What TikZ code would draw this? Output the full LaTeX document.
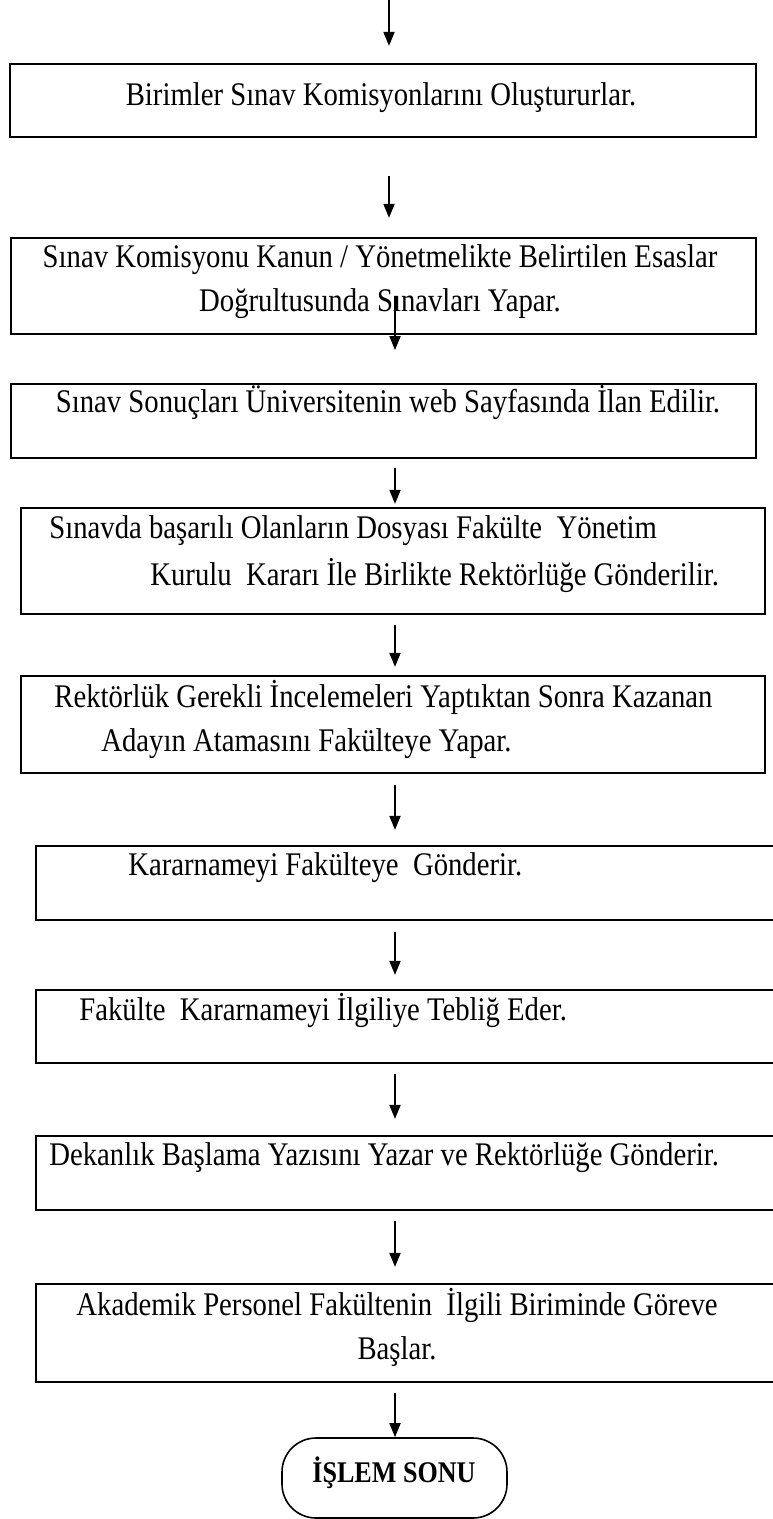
\documentclass[tikz,border=0pt]{standalone}
\usepackage{fontspec}
% narrow, tall serif as in the printed form
\setmainfont{Liberation Serif}[FakeStretch=0.87]
\usetikzlibrary{arrows.meta,calc,fit}
\begin{document}
% one unit = one pixel of the sheet, y grows downwards
\begin{tikzpicture}[x=0.5pt,y=-0.5pt,
  stepbox/.style={draw,line width=1.1pt,inner sep=0pt,rectangle},
  endbox/.style={draw,line width=0.8pt,inner sep=0pt,rounded corners=17pt},
  txt/.style={inner sep=0pt,font=\fontsize{16.5}{22}\selectfont},
  arr/.style={line width=0.9pt,-{Triangle[length=7pt,width=5.5pt]}}]
\useasboundingbox (0,0) rectangle (772,1519);

% arrow axes
\coordinate (ax) at (389,0);
\coordinate (bx) at (395,0);
\coordinate (top) at (389,0);

% process boxes
\node[stepbox,fit={(10,64) (756,137)}]   (b1) {};
\node[stepbox,fit={(11,238) (756,334)}]  (b2) {};
\node[stepbox,fit={(11,384) (756,458)}]  (b3) {};
\node[stepbox,fit={(21,508) (765,614)}]  (b4) {};
\node[stepbox,fit={(21,676) (765,773)}]  (b5) {};
\node[stepbox,fit={(36,846) (780,920)}]  (b6) {};
\node[stepbox,fit={(36,990) (780,1063)}] (b7) {};
\node[stepbox,fit={(36,1136) (780,1210)}] (b8) {};
\node[stepbox,fit={(36,1284) (780,1382)}] (b9) {};
\node[endbox,fit={(282,1438) (507,1518)}] (end) {};

% box texts
\node[txt,anchor=mid] (t1) at (381,101) {Birimler Sınav Komisyonlarını Oluştururlar.};
\node[txt,anchor=mid] (t2a) at (380,263) {Sınav Komisyonu Kanun / Yönetmelikte Belirtilen Esaslar};
\node[txt,anchor=mid] (t2b) at (380,307) {Doğrultusunda Sınavları Yapar.};
\node[txt,anchor=mid] (t3) at (388,408) {Sınav Sonuçları Üniversitenin web Sayfasında İlan Edilir.};
\node[txt,anchor=mid west] (t4a) at (49,534) {Sınavda başarılı Olanların Dosyası Fakülte\ \ Yönetim};
\node[txt,anchor=mid west] (t4b) at (150,581) {Kurulu\ \ Kararı İle Birlikte Rektörlüğe Gönderilir.};
\node[txt,anchor=mid west] (t5a) at (54,703) {Rektörlük Gerekli İncelemeleri Yaptıktan Sonra Kazanan};
\node[txt,anchor=mid west] (t5b) at (101,747) {Adayın Atamasını Fakülteye Yapar.};
\node[txt,anchor=mid west] (t6) at (128,871) {Kararnameyi Fakülteye\ \ Gönderir.};
\node[txt,anchor=mid west] (t7) at (79,1016) {Fakülte\ \ Kararnameyi İlgiliye Tebliğ Eder.};
\node[txt,anchor=mid west] (t8) at (49,1161) {Dekanlık Başlama Yazısını Yazar ve Rektörlüğe Gönderir.};
\node[txt,anchor=mid] (t9a) at (397,1311) {Akademik Personel Fakültenin\ \ İlgili Biriminde Göreve};
\node[txt,anchor=mid] (t9b) at (397,1355) {Başlar.};
\node[inner sep=0pt,font=\fontsize{15}{18}\selectfont\bfseries,anchor=mid] (t10) at (394,1478) {İŞLEM SONU};

% connectors
\draw[arr] (top) -- ($(b1.north -| ax)+(0,-17)$);
\draw[arr] ($(b1.south -| ax)+(0,38)$) -- ($(b2.north -| ax)+(0,-19)$);
\draw[arr] ($(b2.south -| bx)+(0,-39)$) -- ($(b2.south -| bx)+(0,15)$);
\draw[arr] ($(b3.south -| bx)+(0,9)$) -- ($(b4.north -| bx)+(0,-3)$);
\draw[arr] ($(b4.south -| bx)+(0,10)$) -- ($(b5.north -| bx)+(0,-8)$);
\draw[arr] ($(b5.south -| bx)+(0,11)$) -- ($(b6.north -| bx)+(0,-15)$);
\draw[arr] ($(b6.south -| bx)+(0,11)$) -- ($(b7.north -| bx)+(0,-14)$);
\draw[arr] ($(b7.south -| bx)+(0,10)$) -- ($(b8.north -| bx)+(0,-16)$);
\draw[arr] ($(b8.south -| bx)+(0,10)$) -- ($(b9.north -| bx)+(0,-16)$);
\draw[arr] ($(b9.south -| bx)+(0,10)$) -- (end.north -| bx);
\end{tikzpicture}
\end{document}
